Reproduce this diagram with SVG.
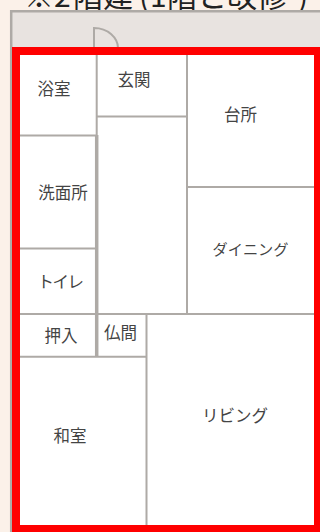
<svg xmlns="http://www.w3.org/2000/svg" width="320" height="532" viewBox="0 0 320 532">
<style>
.w{fill:none;stroke:#aeaaa6;stroke-linecap:butt}
.t{font-family:"Noto Sans CJK JP","Noto Sans",sans-serif;font-size:16.500px;font-weight:400;fill:#444;text-anchor:middle}
</style>
<rect width="320" height="532" fill="#fbf1e9"/>
<text y="7" style="font-family:'Noto Sans CJK JP',sans-serif;font-size:30px;fill:#222"><tspan x="24">※</tspan><tspan x="54">2</tspan><tspan x="73">階建</tspan><tspan x="139">(</tspan><tspan x="150">1</tspan><tspan x="167">階と改修</tspan><tspan x="298">)</tspan></text>
<rect x="11" y="11" width="309" height="521" fill="#e8e3e0"/>
<path class="w" stroke-width="2.500" d="M320 11.200H11.200V532"/>
<g id="door"><path class="w" stroke-width="2" d="M94 47V28C108 28 118 38 118 48"/></g>
<rect x="16" y="51" width="302" height="478" fill="#fff"/>
<g id="walls">
<path class="w" stroke-width="2" d="M96.700 55V135M97 116.500H187M187 55V314M187 187H314M20 314H314M146.500 314V525M20 356.700H147"/>
<path class="w" stroke-width="2" d="M20 135.500H96M20 248.500H96"/>
<path class="w" stroke-width="3.500" d="M96.700 135V357"/>
</g>
<rect x="16" y="51" width="302" height="478" fill="none" stroke="#f00" stroke-width="8"/>
<g id="bath"><text class="t" x="54" y="95">浴室</text></g>
<g id="entrance"><text class="t" x="134" y="86">玄関</text></g>
<g id="kitchen"><text class="t" x="240.500" y="121">台所</text></g>
<g id="washroom"><text class="t" x="63" y="199">洗面所</text></g>
<g id="dining"><text class="t" x="250.500" y="255" style="font-size:15.200px">ダイニング</text></g>
<g id="toilet"><text class="t" x="60" y="288" style="letter-spacing:-1.500px">トイレ</text></g>
<g id="closet"><text class="t" x="61" y="342">押入</text></g>
<g id="altar"><text class="t" x="120.500" y="339">仏間</text></g>
<g id="living"><text class="t" x="235" y="421.500">リビング</text></g>
<g id="washitsu"><text class="t" x="70" y="441.500">和室</text></g>
</svg>
